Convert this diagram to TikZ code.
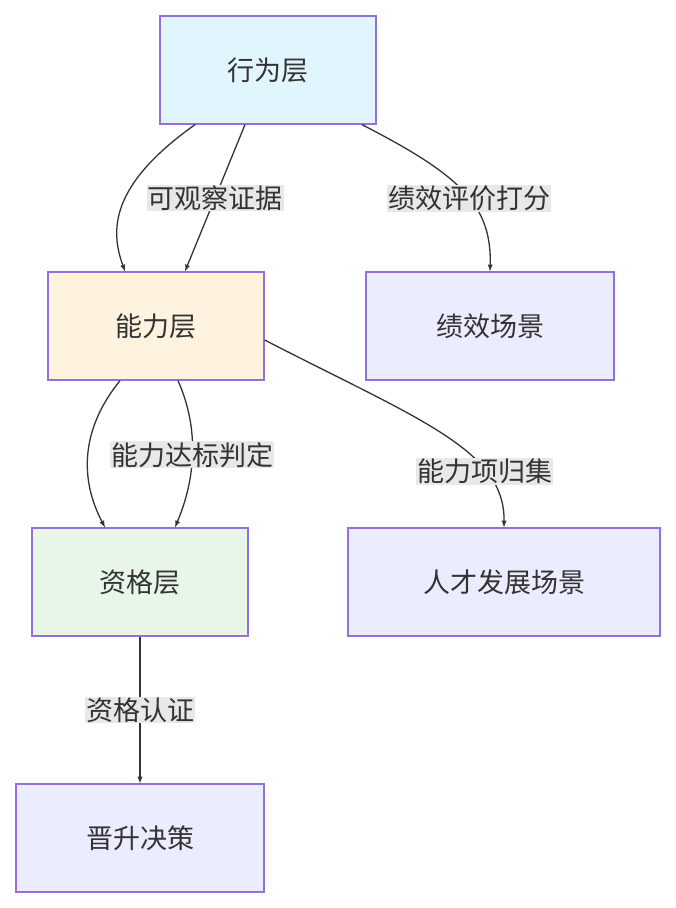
\documentclass[tikz,border=0pt]{standalone}
\usepackage{fontspec}
\setmainfont{Noto Sans CJK SC}
\usetikzlibrary{positioning}
\definecolor{edgegray}{HTML}{333333}
\definecolor{boxline}{HTML}{9370DB}
\definecolor{plainfill}{HTML}{ECECFF}
\definecolor{bluefill}{HTML}{E1F5FE}
\definecolor{orangefill}{HTML}{FFF3E0}
\definecolor{greenfill}{HTML}{E8F5E9}
\definecolor{labelfill}{HTML}{E8E8E8}
\tikzset{
	layer/.style={draw=boxline, rectangle, line width=1.3pt, minimum height=108pt, font=\fontsize{27}{30}\selectfont, text=edgegray},
	scene/.style={layer, fill=plainfill},
	elabel/.style={fill=labelfill, inner sep=1pt, font=\fontsize{27}{30}\selectfont, text=edgegray},
}
\begin{document}
\begin{tikzpicture}[x=1pt, y=-1pt]
	\useasboundingbox (0,0) rectangle (676,908);
	
	\node (act) [layer, fill=bluefill, minimum width=216pt] at (268,70) {行为层};
	\node (perf) [scene, minimum width=248pt] at (490,326) {绩效场景};
	\node (abil) [layer, fill=orangefill, minimum width=216pt] at (156,326) {能力层};
	\node (talent) [scene, minimum width=312pt] at (504,582) {人才发展场景};
	\node (qual) [layer, fill=greenfill, minimum width=216pt] at (140,582) {资格层};
	\node (promo) [scene, minimum width=248pt] at (140,838) {晋升决策};
	
	\begin{scope}[line width=1.3pt, edgegray, ->, >=latex]
		\draw ([xshift=-73pt]act.south) .. controls (110,185) and (110,230) .. ([xshift=-31pt]abil.north);
		\draw ([xshift=-23pt]act.south) -- node[elabel] {可观察证据} ([xshift=29pt]abil.north);
		\draw ([xshift=94pt]act.south) .. controls (460,175) and (492,205) .. node[elabel, pos=0.55] {绩效评价打分} (perf.north);
		
		\draw ([xshift=-36pt]abil.south) .. controls (80,430) and (80,480) .. ([xshift=-35pt]qual.north);
		\draw ([xshift=22pt]abil.south) .. controls (200,430) and (195,480) .. node[elabel, pos=0.5] {能力达标判定} ([xshift=35pt]qual.north);
		\draw ([yshift=-14pt]abil.east) .. controls (420,420) and (505,450) .. node[elabel, pos=0.72] {能力项归集} (talent.north);
		
		\draw (qual) -- node[elabel] {资格认证} (promo);
	\end{scope}
\end{tikzpicture}
\end{document}
